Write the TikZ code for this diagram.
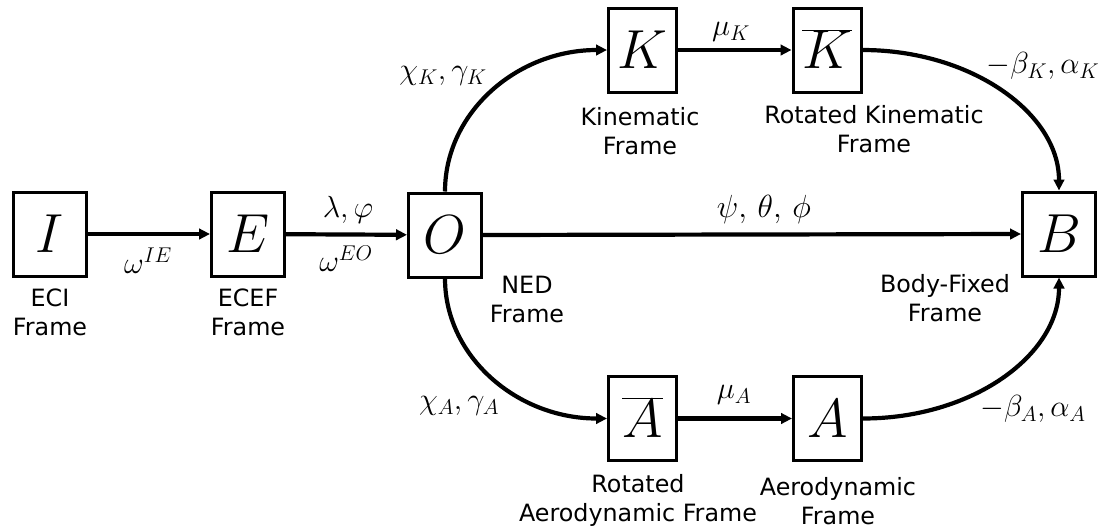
\RequirePackage{fix-cm}
\documentclass[tikz,border=0pt]{standalone}
\usepackage{fontspec}
\newfontfamily\labfont{DejaVu Sans}
\usetikzlibrary{arrows.meta}
\begin{document}
\begin{tikzpicture}[x=1pt,y=1pt,
  frame/.style={draw, line width=3pt, minimum width=73pt, minimum height=84pt,
    inner sep=0pt, text height=37.5pt, text depth=0pt, font=\fontsize{55}{60}\selectfont},
  smallframe/.style={frame, minimum width=68pt},
  conn/.style={line width=4.2pt, -{Triangle[length=11pt,width=10.5pt]}},
  lab/.style={font=\labfont\fontsize{23.8}{29.5}\selectfont, align=center, anchor=base, inner sep=0pt},
  mlab/.style={font=\fontsize{30.5}{34}\selectfont, inner sep=0pt}]
\useasboundingbox (0,0) rectangle (1106,-531);
% boxes
\node[frame] (I) at (50,-234) {$I$};
\node[frame] (E) at (248,-234) {$E$};
\node[frame] (O) at (445,-235) {$O$};
\node[frame] (B) at (1059,-234) {$B$};
\node[smallframe] (K) at (642.5,-50) {$K$};
\node[smallframe] (Kb) at (827,-50) {$\overline{K}$};
\node[smallframe] (Ab) at (642.5,-418.5) {$\overline{A}$};
\node[smallframe] (A) at (827.5,-418.5) {$A$};
% connectors
\draw[conn] (I) -- (E);
\draw[conn] (E) -- (O);
\draw[conn] (O.east) -- (B.west);
\draw[conn] (K) -- (Kb);
\draw[conn] (Ab) -- (A);
\draw[conn] (O.north) .. controls +(0,79) and +(-90,0) .. (K.west);
\draw[conn] (Kb.east) .. controls +(109,0) and +(0,77) .. (B.north);
\draw[conn] (O.south) .. controls +(0,-78) and +(-90,0) .. (Ab.west);
\draw[conn] (A.east) .. controls +(109,0) and +(0,-78) .. (B.south);
% math labels
\node[mlab] (lIE) at (148,-261) {$\omega^{IE}$};
\node[mlab] (lLP) at (348,-210) {$\lambda,\varphi$};
\node[mlab] (lEO) at (346,-259) {$\omega^{EO}$};
\node[mlab, font=\fontsize{32}{36}\selectfont] (lOB) at (764,-209) {$\psi,\,\theta,\,\phi$};
\node[mlab] (lOK) at (443,-76) {$\chi_K,\gamma_K$};
\node[mlab] (lKK) at (731,-32) {$\mu_K$};
\node[mlab] (lKB) at (1043,-66) {$-\beta_K,\alpha_K$};
\node[mlab] (lOA) at (459,-406) {$\chi_A,\gamma_A$};
\node[mlab] (lAA) at (734,-395) {$\mu_A$};
\node[mlab] (lAB) at (1033,-409) {$-\beta_A,\alpha_A$};
% text labels (anchor at baseline of last line)
\node[lab] (tI) at (50,-335.5) {ECI\\Frame};
\node[lab] (tE) at (248,-335.5) {ECEF\\Frame};
\node[lab] (tO) at (527,-322.5) {NED\\Frame};
\node[lab] (tK) at (640,-154.5) {Kinematic\\Frame};
\node[lab] (tKb) at (874,-152.5) {Rotated Kinematic\\Frame};
\node[lab] (tB) at (945,-321.5) {Body-Fixed\\Frame};
\node[lab] (tAb) at (638,-521.5) {Rotated\\Aerodynamic Frame};
\node[lab] (tA) at (838,-524.5) {Aerodynamic\\Frame};
\end{tikzpicture}
\end{document}
